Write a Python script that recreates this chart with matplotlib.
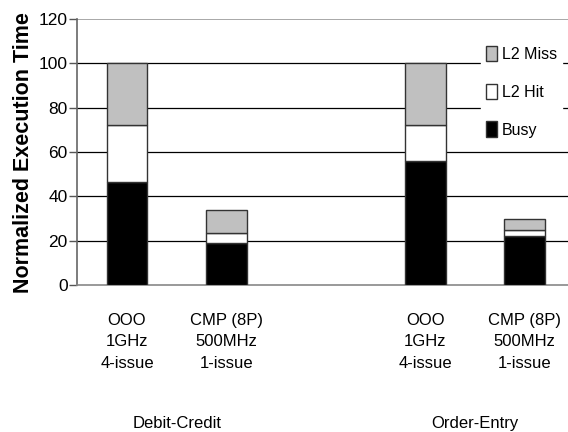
import matplotlib.pyplot as plt
import matplotlib.transforms as mtransforms

plt.rcParams['font.family'] = ['Liberation Sans', 'DejaVu Sans']

# bar slots: 0,1 = Debit-Credit, 3,4 = Order-Entry (slot 2 left empty)
positions = [0, 1, 3, 4]
cpu_labels = ['OOO\n1GHz\n4-issue', 'CMP (8P)\n500MHz\n1-issue',
              'OOO\n1GHz\n4-issue', 'CMP (8P)\n500MHz\n1-issue']
workloads = ['Debit-Credit', 'Order-Entry']
workload_pos = [0.5, 3.5]
busy = [46.5, 19, 56, 22]
l2_hit = [25.5, 4.5, 16, 3]
l2_miss = [28, 10.5, 28, 5]

fig = plt.figure(figsize=(5.68, 4.32), dpi=100)
ax = fig.add_axes([0.136, 0.34, 0.87, 0.616])

bottom_hit = busy
bottom_miss = [b + h for b, h in zip(busy, l2_hit)]
w = 0.41
b1 = ax.bar(positions, busy, w, color='black', edgecolor='#333333', linewidth=1, label='Busy', zorder=3)
b2 = ax.bar(positions, l2_hit, w, bottom=bottom_hit, color='white', edgecolor='#333333', linewidth=1, label='L2 Hit', zorder=3)
b3 = ax.bar(positions, l2_miss, w, bottom=bottom_miss, color='#c0c0c0', edgecolor='#333333', linewidth=1, label='L2 Miss', zorder=3)

ax.set_ylim(0, 120)
ax.set_xlim(-0.5, 4.47)
ax.set_yticks(range(0, 121, 20))
ax.tick_params(axis='y', labelsize=12.5, length=6, width=1, color='#555555', pad=1)
for y in range(20, 101, 20):
    ax.axhline(y, color='black', linewidth=0.9, zorder=1)
ax.axhline(120, color='#999999', linewidth=1.2, zorder=1)

for s in ['top', 'right']:
    ax.spines[s].set_visible(False)
ax.spines['left'].set_color('#666666')
ax.spines['bottom'].set_color('#888888')
ax.spines['left'].set_linewidth(1.2)
ax.spines['bottom'].set_linewidth(1.2)

ax.set_xticks(positions)
ax.set_xticklabels(cpu_labels, fontsize=12, linespacing=1.55)
ax.tick_params(axis='x', length=0, pad=20)

ax.set_ylabel('Normalized Execution Time', fontsize=15.5, fontweight='bold', labelpad=3)

trans = mtransforms.blended_transform_factory(ax.transData, fig.transFigure)
for name, xp in zip(workloads, workload_pos):
    ax.text(xp, 1 - 428 / 432, name, transform=trans, ha='center', va='baseline', fontsize=12)

leg = ax.legend(handles=[b3, b2, b1], loc='upper right', bbox_to_anchor=(0.997, 0.946),
                fontsize=11.5, frameon=True, fancybox=False, edgecolor='white',
                handlelength=0.7, handleheight=1.1, handletextpad=0.3,
                labelspacing=1.35, borderpad=0.3, framealpha=1)
leg.set_zorder(5)

fig.savefig('out.png', dpi=100)
